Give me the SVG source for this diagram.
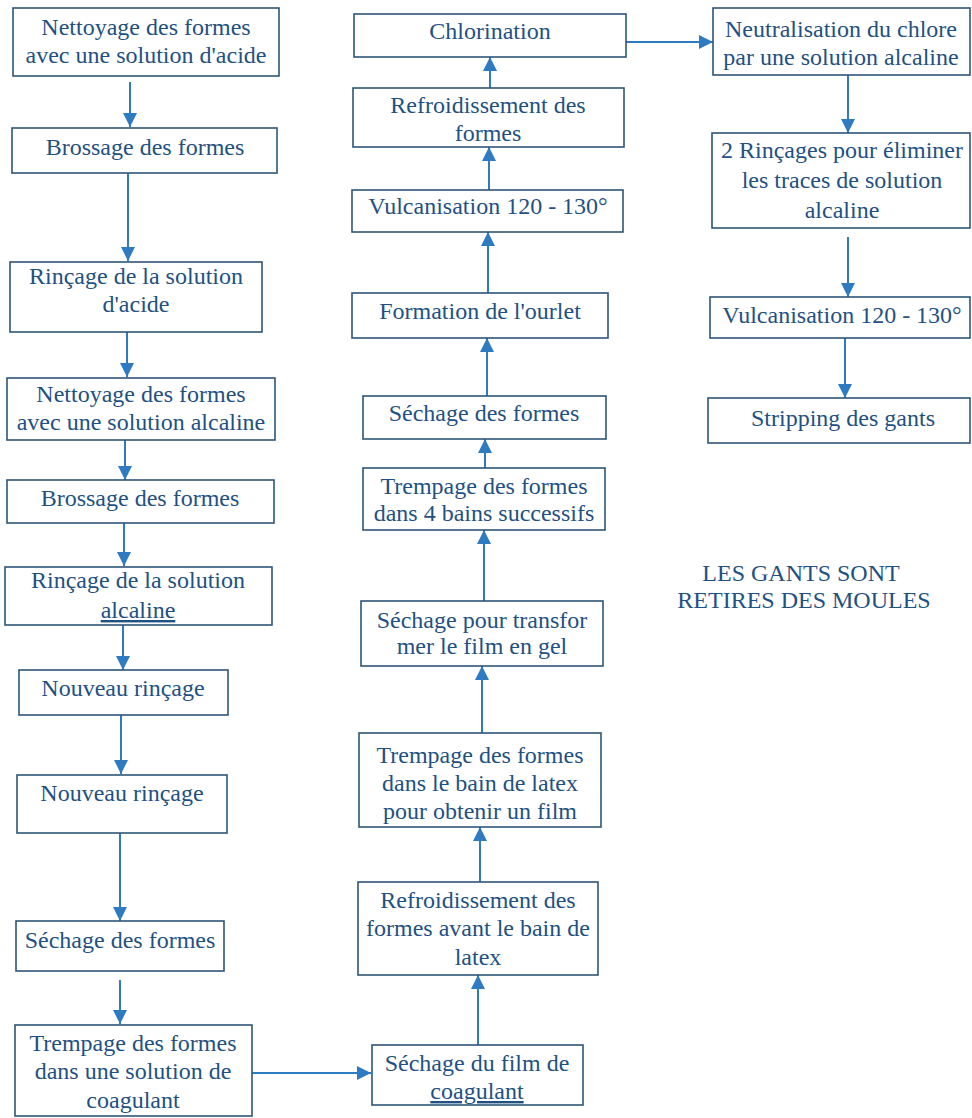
<svg xmlns="http://www.w3.org/2000/svg" width="972" height="1118" viewBox="0 0 972 1118">
<style>
.box{fill:#fff;stroke:#2f5578;stroke-width:1.6}
.lbl{font-family:"Liberation Serif","Times New Roman",serif;font-size:24px;fill:#1f5182;text-anchor:middle}
.c{stroke:#2f7bc2;stroke-width:2;fill:none;marker-end:url(#ah)}
.und{text-decoration:underline}
</style>
<defs>
<marker id="ah" viewBox="0 0 14 14" refX="14" refY="7" markerWidth="14" markerHeight="14" markerUnits="userSpaceOnUse" orient="auto">
<path d="M0,0 L14,7 L0,14 z" fill="#2f7bc2"/>
</marker>
</defs>
<rect width="972" height="1118" fill="#fff"/>
<g id="connectors">
<line class="c" x1="130" y1="82" x2="130" y2="127"/>
<line class="c" x1="128" y1="173" x2="128" y2="261"/>
<line class="c" x1="127" y1="332" x2="127" y2="377"/>
<line class="c" x1="125" y1="440" x2="125" y2="480"/>
<line class="c" x1="124" y1="523" x2="124" y2="566"/>
<line class="c" x1="123" y1="625" x2="123" y2="670"/>
<line class="c" x1="121" y1="715" x2="121" y2="774"/>
<line class="c" x1="120" y1="833" x2="120" y2="921"/>
<line class="c" x1="120" y1="980" x2="120" y2="1024"/>
<line class="c" x1="252" y1="1073" x2="371" y2="1073"/>
<line class="c" x1="478" y1="1045" x2="478" y2="975"/>
<line class="c" x1="480" y1="882" x2="480" y2="827"/>
<line class="c" x1="482" y1="733" x2="482" y2="666"/>
<line class="c" x1="484" y1="601" x2="484" y2="530"/>
<line class="c" x1="485" y1="468" x2="485" y2="439"/>
<line class="c" x1="487" y1="396" x2="487" y2="338"/>
<line class="c" x1="488" y1="293" x2="488" y2="232"/>
<line class="c" x1="489" y1="190" x2="489" y2="147"/>
<line class="c" x1="490" y1="88" x2="490" y2="57"/>
<line class="c" x1="626" y1="42" x2="713" y2="42"/>
<line class="c" x1="848" y1="75" x2="848" y2="133"/>
<line class="c" x1="848" y1="237" x2="848" y2="297"/>
<line class="c" x1="845" y1="338" x2="845" y2="398"/>
</g>
<g id="L1"><rect class="box" x="13" y="8" width="266" height="68"/><text class="lbl" x="146" y="35">Nettoyage des formes</text><text class="lbl" x="146" y="63">avec une solution d'acide</text></g>
<g id="L2"><rect class="box" x="12" y="128" width="265" height="45"/><text class="lbl" x="145" y="155">Brossage des formes</text></g>
<g id="L3"><rect class="box" x="10" y="262" width="252" height="70"/><text class="lbl" x="136" y="284">Rinçage de la solution</text><text class="lbl" x="136" y="312">d'acide</text></g>
<g id="L4"><rect class="box" x="7" y="378" width="268" height="62"/><text class="lbl" x="141" y="402">Nettoyage des formes</text><text class="lbl" x="141" y="430">avec une solution alcaline</text></g>
<g id="L5"><rect class="box" x="7" y="480" width="267" height="43"/><text class="lbl" x="140" y="506">Brossage des formes</text></g>
<g id="L6"><rect class="box" x="5" y="567" width="267" height="58"/><text class="lbl" x="138" y="588">Rinçage de la solution</text><text class="lbl und" x="138" y="618">alcaline</text></g>
<g id="L7"><rect class="box" x="19" y="670" width="209" height="45"/><text class="lbl" x="123" y="696">Nouveau rinçage</text></g>
<g id="L8"><rect class="box" x="17" y="775" width="210" height="58"/><text class="lbl" x="122" y="801">Nouveau rinçage</text></g>
<g id="L9"><rect class="box" x="16" y="921" width="208" height="50"/><text class="lbl" x="120" y="948">Séchage des formes</text></g>
<g id="L10"><rect class="box" x="15" y="1025" width="237" height="91"/><text class="lbl" x="133" y="1051">Trempage des formes</text><text class="lbl" x="133" y="1079">dans une solution de</text><text class="lbl" x="133" y="1108">coagulant</text></g>
<g id="M1"><rect class="box" x="372" y="1045" width="211" height="60"/><text class="lbl" x="477" y="1071">Séchage du film de</text><text class="lbl und" x="477" y="1099">coagulant</text></g>
<g id="M2"><rect class="box" x="358" y="882" width="240" height="93"/><text class="lbl" x="478" y="908">Refroidissement des</text><text class="lbl" x="478" y="936">formes avant le bain de</text><text class="lbl" x="478" y="965">latex</text></g>
<g id="M3"><rect class="box" x="359" y="733" width="242" height="94"/><text class="lbl" x="480" y="763">Trempage des formes</text><text class="lbl" x="480" y="791">dans le bain de latex</text><text class="lbl" x="480" y="819">pour obtenir un film</text></g>
<g id="M4"><rect class="box" x="361" y="601" width="242" height="65"/><text class="lbl" x="482" y="628">Séchage pour transfor</text><text class="lbl" x="482" y="654">mer le film en gel</text></g>
<g id="M5"><rect class="box" x="363" y="468" width="242" height="62"/><text class="lbl" x="484" y="494">Trempage des formes</text><text class="lbl" x="484" y="521">dans 4 bains successifs</text></g>
<g id="M6"><rect class="box" x="363" y="396" width="243" height="43"/><text class="lbl" x="484" y="421">Séchage des formes</text></g>
<g id="M7"><rect class="box" x="352" y="293" width="256" height="45"/><text class="lbl" x="480" y="319">Formation de l'ourlet</text></g>
<g id="M8"><rect class="box" x="352" y="190" width="271" height="42"/><text class="lbl" x="488" y="214">Vulcanisation 120 - 130°</text></g>
<g id="M9"><rect class="box" x="353" y="88" width="271" height="59"/><text class="lbl" x="488" y="113">Refroidissement des</text><text class="lbl" x="488" y="141">formes</text></g>
<g id="M10"><rect class="box" x="354" y="14" width="272" height="43"/><text class="lbl" x="490" y="39">Chlorination</text></g>
<g id="R1"><rect class="box" x="713" y="8" width="257" height="67"/><text class="lbl" x="841" y="37">Neutralisation du chlore</text><text class="lbl" x="841" y="65">par une solution alcaline</text></g>
<g id="R2"><rect class="box" x="712" y="133" width="258" height="95"/><text class="lbl" x="842" y="158">2 Rinçages pour éliminer</text><text class="lbl" x="842" y="188">les traces de solution</text><text class="lbl" x="842" y="218">alcaline</text></g>
<g id="R3"><rect class="box" x="710" y="297" width="260" height="41"/><text class="lbl" x="842" y="323">Vulcanisation 120 - 130°</text></g>
<g id="R4"><rect class="box" x="708" y="398" width="262" height="45"/><text class="lbl" x="843" y="426">Stripping des gants</text></g>
<g id="note"><text class="lbl" x="801" y="581">LES GANTS SONT</text><text class="lbl" x="804" y="608">RETIRES DES MOULES</text></g>
</svg>
